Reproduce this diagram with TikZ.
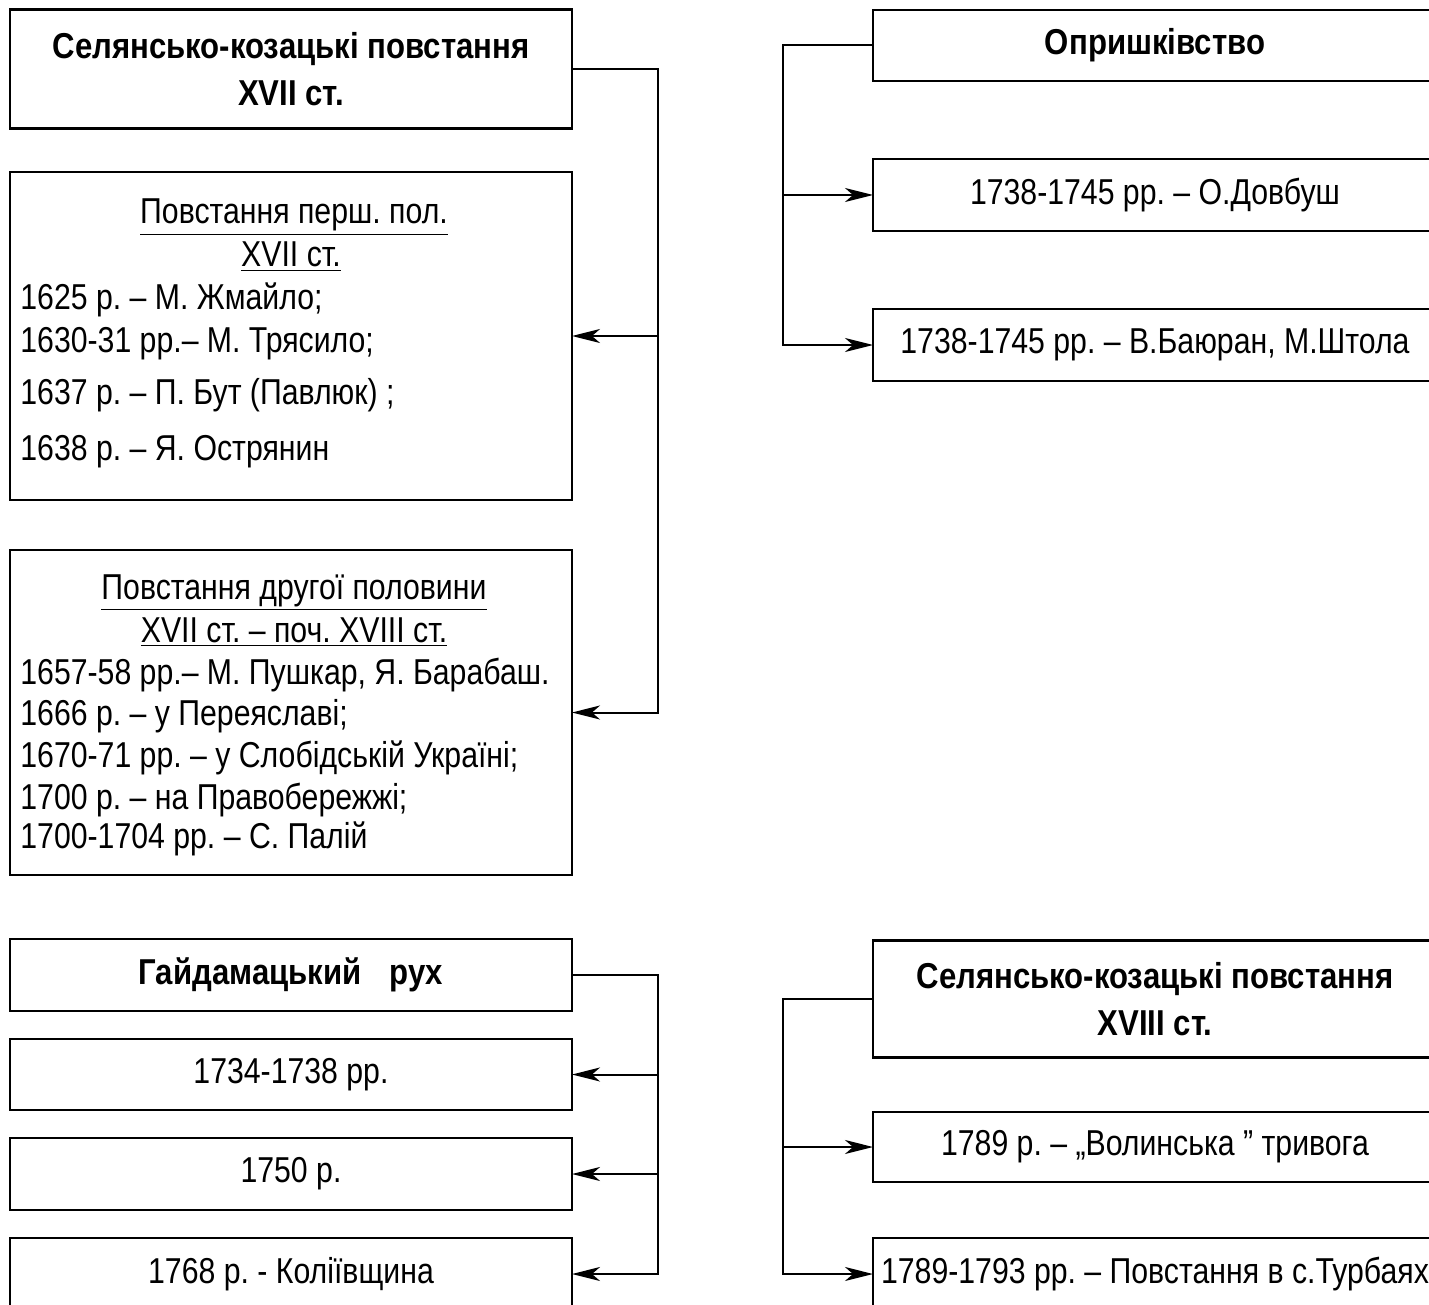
\documentclass[tikz,border=0pt]{standalone}
\usepackage{fontspec}
\setmainfont[FakeStretch=0.84,BoldFeatures={FakeStretch=0.865}]{Liberation Sans}
\usetikzlibrary{arrows.meta}
\frenchspacing
\begin{document}
\begin{tikzpicture}[x=0.5pt,y=-0.5pt,
  box/.style={draw,line width=1.2pt,inner sep=0pt,outer sep=0pt,align=center,
    font=\fontsize{18}{23.5}\selectfont},
  lbox/.style={box,minimum width=281pt},
  rbox/.style={box,minimum width=282pt},
  ttl/.style={font=\fontsize{18}{23.5}\selectfont\bfseries},
  txt/.style={anchor=base west,inner sep=0pt,font=\fontsize{18}{23.5}\selectfont},
  ctxt/.style={anchor=base,inner sep=0pt,font=\fontsize{18}{23.5}\selectfont},
  conn/.style={line width=1pt},
  arr/.style={conn,-{Stealth[length=14pt,width=7pt,inset=4pt]}}]
\useasboundingbox (0,0) rectangle (1429,1305);
\clip (0,0) rectangle (1429,1305);
% left column
\node[lbox,minimum height=59.5pt,ttl] (A) at (291,69) {Селянсько-козацькі повстання\\XVII ст.};
\node[lbox,minimum height=164pt] (B) at (291,336) {};
\node[lbox,minimum height=162.5pt] (C) at (291,712.5) {};
\node[lbox,minimum height=36pt,ttl] (D) at (291,975) {Гайдамацький\hspace{14pt}рух};
\node[lbox,minimum height=35.5pt] (E) at (291,1074.5) {1734-1738 рр.};
\node[lbox,minimum height=36pt] (F) at (291,1174) {1750 р.};
\node[lbox,minimum height=36pt] (G) at (291,1274) {1768 р. - Коліївщина};
% text of B
\node[ctxt] (b1) at (294,224) {\underline{Повстання перш. пол.}};
\node[ctxt] (b2) at (291,267) {\underline{XVII ст.}};
\node[txt] (b3) at (20,309) {1625 р. – М. Жмайло;};
\node[txt] (b4) at (20,352) {1630-31 рр.– М. Трясило;};
\node[txt] (b5) at (20,404) {1637 р. – П. Бут (Павлюк) ;};
\node[txt] (b6) at (20,460) {1638 р. – Я. Острянин};
% text of C
\node[ctxt] (c1) at (294,599) {\underline{Повстання другої половини}};
\node[ctxt] (c2) at (294,642) {\underline{XVII ст. – поч. XVIII ст.}};
\node[txt] (c3) at (20,684) {1657-58 рр.– М. Пушкар, Я. Барабаш.};
\node[txt] (c4) at (20,725) {1666 р. – у Переяславі;};
\node[txt] (c5) at (20,767) {1670-71 рр. – у Слобідській Україні;};
\node[txt] (c6) at (20,809) {1700 р. – на Правобережжі;};
\node[txt] (c7) at (20,848) {1700-1704 рр. – С. Палій};
% right column
\node[rbox,minimum height=35.5pt,ttl] (R0) at (1155,45.5) {Опришківство};
\node[rbox,minimum height=36pt] (R1) at (1155,195) {1738-1745 рр. – О.Довбуш};
\node[rbox,minimum height=36pt] (R2) at (1155,345) {1738-1745 рр. – В.Баюран, М.Штола};
\node[rbox,minimum height=58.5pt,ttl] (R3) at (1155,999) {Селянсько-козацькі повстання\\XVIII ст.};
\node[rbox,minimum height=35pt] (R4) at (1155,1147) {1789 р. – „Волинська ” тривога};
\node[rbox,minimum height=36pt] (R5) at (1155,1274) {1789-1793 рр. – Повстання в с.Турбаях};
% junction columns
\coordinate (j1) at (658,0);
\coordinate (j2) at (783,0);
% connectors
\draw[arr] (A.east) -| (j1 |- C.east) -- (C.east);
\draw[arr] (j1 |- B.east) -- (B.east);
\draw[arr] (D.east) -| (j1 |- G.east) -- (G.east);
\draw[arr] (j1 |- E.east) -- (E.east);
\draw[arr] (j1 |- F.east) -- (F.east);
\draw[arr] (R0.west) -| (j2 |- R2.west) -- (R2.west);
\draw[arr] (j2 |- R1.west) -- (R1.west);
\draw[arr] (R3.west) -| (j2 |- R5.west) -- (R5.west);
\draw[arr] (j2 |- R4.west) -- (R4.west);
\end{tikzpicture}
\end{document}
